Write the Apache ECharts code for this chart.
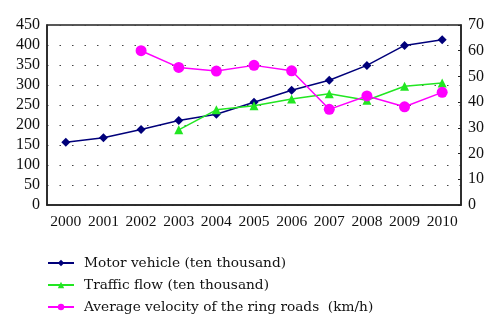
<!DOCTYPE html>
<html><head><meta charset="utf-8">
<script src="https://cdn.jsdelivr.net/npm/echarts@6/dist/echarts.min.js"></script>
<style>html,body{margin:0;padding:0;background:#fff}#c{width:500px;height:331px}</style>
</head><body><div id="c"></div>
<script>
const years = ['2000','2001','2002','2003','2004','2005','2006','2007','2008','2009','2010'];
const motorVehicle = [157, 168, 189, 211, 227, 257, 287, 312, 349, 399, 413];
const trafficFlow = [null, null, null, 188, 238, 248, 265, 278, 262, 297, 305];
const avgVelocity = [null, null, 60, 53.5, 52.1, 54.3, 52.2, 37.2, 42.4, 38.2, 43.8];
const leftTicks = [0, 450, 50];
const rightTicks = [0, 70, 10];

const font = 'Liberation Serif';
const chart = echarts.init(document.getElementById('c'));
chart.setOption({
  animation: false,
  backgroundColor: '#fff',
  textStyle: { fontFamily: font },
  grid: { left: 47, right: 39, top: 25, bottom: 126, show: true, borderColor: '#222', borderWidth: 1.5, backgroundColor: 'transparent' },
  legend: {
    orient: 'vertical', left: 47, top: 256, padding: 0, itemWidth: 26, itemHeight: 8, itemGap: 8,
    textStyle: { fontFamily: 'DejaVu Serif', fontSize: 13.7, color: '#111', padding: [0, 0, 0, 5] },
    data: ['Motor vehicle (ten thousand)', 'Traffic flow (ten thousand)', 'Average velocity of the ring roads  (km/h)']
  },
  xAxis: {
    type: 'category', data: years, boundaryGap: true,
    axisLine: { lineStyle: { color: '#222', width: 1.5 } },
    axisTick: { inside: true, length: 4, lineStyle: { color: '#222' } },
    axisLabel: { fontFamily: font, fontSize: 15.5, color: '#111', margin: 9, interval: 0 },
    splitLine: { show: false }
  },
  yAxis: [{
    type: 'value', min: leftTicks[0], max: leftTicks[1], interval: leftTicks[2],
    axisLine: { show: true, lineStyle: { color: '#222', width: 1.5 } },
    axisTick: { show: false },
    axisLabel: { fontFamily: font, fontSize: 16, color: '#111', margin: 7 },
    splitLine: { show: true, lineStyle: { color: '#444', type: [1.5, 11], width: 1.2 } }
  }, {
    type: 'value', min: rightTicks[0], max: rightTicks[1], interval: rightTicks[2],
    position: 'right',
    axisLine: { show: true, lineStyle: { color: '#222', width: 1.5 } },
    axisTick: { show: true, inside: true, length: 3, lineStyle: { color: '#222' } },
    axisLabel: { fontFamily: font, fontSize: 16, color: '#111', margin: 7 },
    splitLine: { show: false }
  }],
  series: [{
    name: 'Motor vehicle (ten thousand)', type: 'line', data: motorVehicle, yAxisIndex: 0,
    symbol: 'diamond', symbolSize: 9,
    itemStyle: { color: '#00007a' }, lineStyle: { color: '#00007a', width: 1.5 }
  }, {
    name: 'Traffic flow (ten thousand)', type: 'line', data: trafficFlow, yAxisIndex: 0,
    symbol: 'triangle', symbolSize: 9,
    itemStyle: { color: '#22e622' }, lineStyle: { color: '#22e622', width: 1.5 }
  }, {
    name: 'Average velocity of the ring roads  (km/h)', type: 'line', data: avgVelocity, yAxisIndex: 1,
    symbol: 'circle', symbolSize: 11,
    itemStyle: { color: '#ff00ff' }, lineStyle: { color: '#ff00ff', width: 1.5 }
  }]
});
</script></body></html>
